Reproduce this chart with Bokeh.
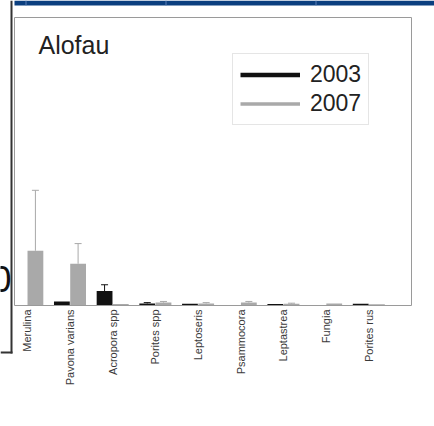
import math
from bokeh.plotting import figure
from bokeh.models import (ColumnDataSource, Whisker, TeeHead, Legend, LegendItem,
                          Label, Range1d, BoxAnnotation)
from bokeh.core.properties import value
from bokeh.embed import file_html
from bokeh.resources import INLINE

# ---- data ----
species = ["Merulina", "Pavona varians", "Acropora spp", "Porites spp", "Leptoseris",
           "Psammocora", "Leptastrea", "Fungia", "Porites rus"]
cover_2003 = [0.0, 0.14, 0.50, 0.07, 0.06, 0.0, 0.05, 0.0, 0.06]
err_2003 = [0.0, 0.0, 0.22, 0.03, 0.0, 0.0, 0.0, 0.0, 0.0]
cover_2007 = [1.90, 1.45, 0.05, 0.10, 0.07, 0.10, 0.06, 0.07, 0.04]
err_2007 = [2.10, 0.70, 0.0, 0.04, 0.03, 0.04, 0.02, 0.0, 0.0]
site = "Alofau"
years = ["2003", "2007"]

BLACK = "#111111"
GRAY = "#a9a9a9"
off = 0.19
bw = 0.37

# plot-area geometry (pixels in the 434x426 canvas)
W, H = 434, 426
AX_L, AX_R, AX_T, AX_B = 14, 411, 17, 305
X0, X1, Y0, Y1 = -0.3, 9.0, 0.0, 10.0
sx = (AX_R - AX_L) / (X1 - X0)
sy = (AX_B - AX_T) / (Y1 - Y0)

pos = list(range(len(species)))
src03 = ColumnDataSource(dict(x=[i - off for i in pos], top=cover_2003))
src07 = ColumnDataSource(dict(x=[i + off for i in pos], top=cover_2007))


def err_source(xs, tops, errs):
    keep = [k for k, e in enumerate(errs) if e > 0]
    return ColumnDataSource(dict(x=[xs[k] for k in keep], top=[tops[k] for k in keep],
                                 upper=[tops[k] + errs[k] for k in keep]))


e03 = err_source(src03.data["x"], cover_2003, err_2003)
e07 = err_source(src07.data["x"], cover_2007, err_2007)

p = figure(width=W, height=H, output_backend="svg", toolbar_location=None, title=None,
           x_range=Range1d(X0 - AX_L / sx, X1 + (W - AX_R) / sx),
           y_range=Range1d(Y0 - (H - AX_B) / sy, Y1 + AX_T / sy),
           min_border=0, x_axis_location=None, y_axis_location=None)
p.background_fill_color = "white"
p.border_fill_color = "white"
p.outline_line_color = None
p.xgrid.visible = False
p.ygrid.visible = False

# plot-area frame
p.add_layout(BoxAnnotation(left=X0, right=X1, bottom=Y0, top=Y1, fill_color=None,
                           line_color="#9a9a9a", line_alpha=1, line_width=1))

p.vbar(x="x", top="top", width=bw, bottom=0, source=src03, fill_color=BLACK, line_color=None)
p.vbar(x="x", top="top", width=bw, bottom=0, source=src07, fill_color=GRAY, line_color=None)

w03 = Whisker(source=e03, base="x", upper="upper", lower="top", line_color=BLACK,
              line_width=1, upper_head=TeeHead(size=7, line_color=BLACK, line_width=1),
              lower_head=None)
w07 = Whisker(source=e07, base="x", upper="upper", lower="top", line_color=GRAY,
              line_width=1, upper_head=TeeHead(size=7, line_color=GRAY, line_width=1),
              lower_head=None)
p.add_layout(w03)
p.add_layout(w07)

# category labels below the baseline, reading upwards
p.text(x=pos, y=-4 / sy, text=species, angle=math.pi / 2, text_align="right",
       text_baseline="middle", text_font=value("Liberation Sans"),
       text_font_size="11px", text_color="#3a3a3a")

# legend (line swatches; their data sit outside the visible ranges)
r03 = p.line(x=[-5, -4], y=[-50, -50], line_color=BLACK, line_width=4.5)
r07 = p.line(x=[-5, -4], y=[-50, -50], line_color=GRAY, line_width=3.5)
leg = Legend(items=[LegendItem(label=years[0], renderers=[r03]),
                    LegendItem(label=years[1], renderers=[r07])],
             location=(232, H - 125))
leg.label_text_font = "Liberation Sans"
leg.label_text_font_size = "23px"
leg.label_text_color = "#222222"
leg.glyph_width = 60
leg.glyph_height = 25
leg.label_height = 25
leg.label_standoff = 10
leg.padding = 7
leg.spacing = 2
leg.margin = 0
leg.border_line_color = "#cccccc"
leg.border_line_width = 1
leg.background_fill_color = "white"
p.add_layout(leg, "center")

p.add_layout(Label(x=0.262, y=9.03, text=site, text_font="Liberation Sans",
                   text_font_size="25px", text_color="#222222",
                   text_baseline="alphabetic"))

# surrounding page decorations (parts of neighbouring panels)
def canvas_box(l, r, t, b, color):
    return BoxAnnotation(left=l, right=r, top=H - t, bottom=H - b,
                         left_units="screen", right_units="screen",
                         top_units="screen", bottom_units="screen",
                         fill_color=color, fill_alpha=1, line_color=None)

p.add_layout(canvas_box(14, 434, 0, 5, "#0b3f7f"))
for dx in (25, 165, 315):
    p.add_layout(canvas_box(dx, dx + 1, 0, 5, "#5a7fb5"))
p.add_layout(canvas_box(10, 12, 0, 353, "#333333"))
p.add_layout(canvas_box(0, 12, 351, 353, "#333333"))
p.add_layout(Label(x=-9, y=H - 278, x_units="screen", y_units="screen", text="0",
                   text_font="Liberation Sans", text_font_size="36px",
                   text_color="#111111", text_baseline="alphabetic"))

open("out.html", "w").write(file_html(p, INLINE))
